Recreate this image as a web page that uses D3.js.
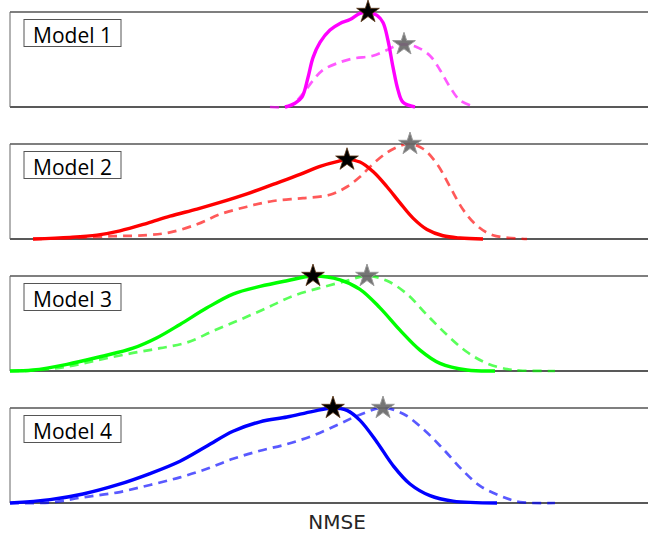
<!DOCTYPE html>
<html>
<head>
<meta charset="utf-8">
<script src="https://cdn.jsdelivr.net/npm/d3@7"></script>
<style>
  body { margin: 0; background: #fff; }
  svg { display: block; }
</style>
</head>
<body>
<svg id="svg" width="648" height="535"></svg>
<script>
// panel names and line colours
var models = ["Model 1", "Model 2", "Model 3", "Model 4"];
var colors = ["#ff00ff", "#ff0000", "#00ff00", "#0000ff"];

// density curves: [NMSE, relative density]
var model1Solid = [[0.275,0],[0.285,0.04],[0.292,0.105],[0.298,0.31],[0.303,0.52],[0.310,0.68],[0.320,0.81],[0.330,0.88],[0.340,0.92],[0.350,0.986],[0.358,1.0],[0.367,0.965],[0.373,0.89],[0.378,0.70],[0.383,0.42],[0.388,0.18],[0.393,0.05],[0.405,0]];
var model1Dashed = [[0.260,0],[0.280,0.01],[0.293,0.14],[0.303,0.28],[0.313,0.39],[0.327,0.46],[0.343,0.51],[0.363,0.54],[0.377,0.60],[0.387,0.65],[0.394,0.66],[0.407,0.63],[0.420,0.54],[0.430,0.39],[0.440,0.21],[0.450,0.07],[0.465,0]];

var model2Solid = [[0.023,0],[0.060,0.017],[0.087,0.041],[0.110,0.086],[0.137,0.165],[0.160,0.24],[0.187,0.315],[0.210,0.385],[0.237,0.475],[0.263,0.575],[0.290,0.68],[0.310,0.765],[0.327,0.815],[0.337,0.835],[0.350,0.81],[0.363,0.71],[0.377,0.55],[0.390,0.38],[0.403,0.22],[0.417,0.10],[0.433,0.034],[0.450,0.01],[0.473,0]];
var model2Dashed = [[0.023,0],[0.060,0.01],[0.103,0.03],[0.137,0.04],[0.160,0.07],[0.187,0.155],[0.210,0.26],[0.237,0.34],[0.263,0.40],[0.293,0.43],[0.320,0.465],[0.337,0.55],[0.350,0.655],[0.363,0.79],[0.377,0.91],[0.390,0.98],[0.400,1.0],[0.413,0.95],[0.427,0.79],[0.440,0.55],[0.453,0.31],[0.467,0.14],[0.483,0.04],[0.517,0]];

var model3Solid = [[0.000,0],[0.023,0.01],[0.057,0.07],[0.090,0.15],[0.123,0.24],[0.147,0.35],[0.170,0.49],[0.197,0.665],[0.223,0.81],[0.250,0.89],[0.277,0.95],[0.303,1.0],[0.330,0.96],[0.350,0.86],[0.370,0.665],[0.390,0.43],[0.410,0.22],[0.430,0.08],[0.457,0.01],[0.485,0]];
var model3Dashed = [[0.000,0],[0.023,0.005],[0.057,0.045],[0.090,0.12],[0.123,0.19],[0.150,0.24],[0.177,0.30],[0.203,0.42],[0.230,0.54],[0.257,0.665],[0.283,0.79],[0.310,0.875],[0.337,0.95],[0.357,1.0],[0.377,0.95],[0.397,0.81],[0.417,0.59],[0.437,0.38],[0.457,0.20],[0.477,0.08],[0.497,0.02],[0.510,0.005],[0.545,0]];

var model4Solid = [[0.000,0],[0.040,0.035],[0.073,0.095],[0.107,0.19],[0.140,0.31],[0.170,0.44],[0.197,0.60],[0.223,0.755],[0.250,0.855],[0.277,0.905],[0.303,0.965],[0.323,1.0],[0.337,0.975],[0.350,0.87],[0.367,0.64],[0.383,0.395],[0.400,0.2],[0.420,0.077],[0.443,0.02],[0.487,0]];
var model4Dashed = [[0.000,0],[0.040,0.005],[0.073,0.06],[0.107,0.11],[0.140,0.19],[0.170,0.27],[0.197,0.36],[0.223,0.465],[0.250,0.55],[0.277,0.62],[0.303,0.71],[0.330,0.835],[0.350,0.93],[0.373,1.0],[0.393,0.94],[0.413,0.78],[0.433,0.57],[0.453,0.34],[0.470,0.18],[0.490,0.077],[0.510,0.01],[0.545,0]];

var solidCurves = [model1Solid, model2Solid, model3Solid, model4Solid];
var dashedCurves = [model1Dashed, model2Dashed, model3Dashed, model4Dashed];

var xLabel = "NMSE";

var svg = d3.select("#svg"),
  left = 10,
  right = 660,
  top0 = 12,
  step = 132,
  panelHeight = 95;

var x = d3.scaleLinear().domain([0, 0.65]).range([left, right]);
var y = d3.scaleLinear().domain([0, 1]).range([panelHeight, 0]);

var line = d3.line()
  .curve(d3.curveCatmullRom.alpha(0.5))
  .x(function (d) { return x(d[0]); })
  .y(function (d) { return Math.min(y(d[1]), panelHeight); });

var star = d3.symbol().type(d3.symbolStar).size(160);

function peak(data) {
  return data.reduce(function (a, b) { return b[1] > a[1] ? b : a; });
}

models.forEach(function (name, i) {
  var g = svg.append("g")
    .attr("transform", "translate(0," + (top0 + i * step) + ")");

  // frame
  g.append("line").attr("x1", left).attr("x2", right).attr("y1", 0).attr("y2", 0)
    .attr("stroke", "#555").attr("stroke-width", 1.3);
  g.append("line").attr("x1", left).attr("x2", right).attr("y1", panelHeight).attr("y2", panelHeight)
    .attr("stroke", "#222").attr("stroke-width", 1.3);
  g.append("line").attr("x1", left).attr("x2", left).attr("y1", 0).attr("y2", panelHeight)
    .attr("stroke", "#666").attr("stroke-width", 1);

  g.append("path")
    .attr("d", line(solidCurves[i]))
    .attr("fill", "none")
    .attr("stroke", colors[i])
    .attr("stroke-width", 3.4);

  g.append("path")
    .attr("d", line(dashedCurves[i]))
    .attr("fill", "none")
    .attr("stroke", colors[i])
    .attr("stroke-opacity", 0.65)
    .attr("stroke-width", 2.7)
    .attr("stroke-dasharray", "9,6");

  var ps = peak(solidCurves[i]),
    pd = peak(dashedCurves[i]);

  g.append("path")
    .attr("d", star)
    .attr("transform", "translate(" + x(pd[0]) + "," + y(pd[1]) + ")")
    .attr("fill", "#666")
    .attr("fill-opacity", 0.9)
    .attr("stroke", "#999")
    .attr("stroke-width", 1);

  g.append("path")
    .attr("d", star)
    .attr("transform", "translate(" + x(ps[0]) + "," + y(ps[1]) + ")")
    .attr("fill", "#000")
    .attr("stroke", "#5a3515")
    .attr("stroke-width", 0.8);

  // label box
  g.append("rect")
    .attr("x", 24).attr("y", 7.5)
    .attr("width", 97).attr("height", 27)
    .attr("fill", "#fff")
    .attr("stroke", "#555")
    .attr("stroke-width", 1);

  g.append("text")
    .attr("x", 72.5)
    .attr("y", 30.5)
    .attr("text-anchor", "middle")
    .attr("font-family", "Open Sans, sans-serif")
    .attr("font-size", 21)
    .attr("fill", "#000")
    .text(name);
});

svg.append("text")
  .attr("x", 337)
  .attr("y", 529)
  .attr("text-anchor", "middle")
  .attr("font-family", "DejaVu Sans, sans-serif")
  .attr("font-size", 20)
  .attr("fill", "#262626")
  .text(xLabel);
</script>
</body>
</html>
